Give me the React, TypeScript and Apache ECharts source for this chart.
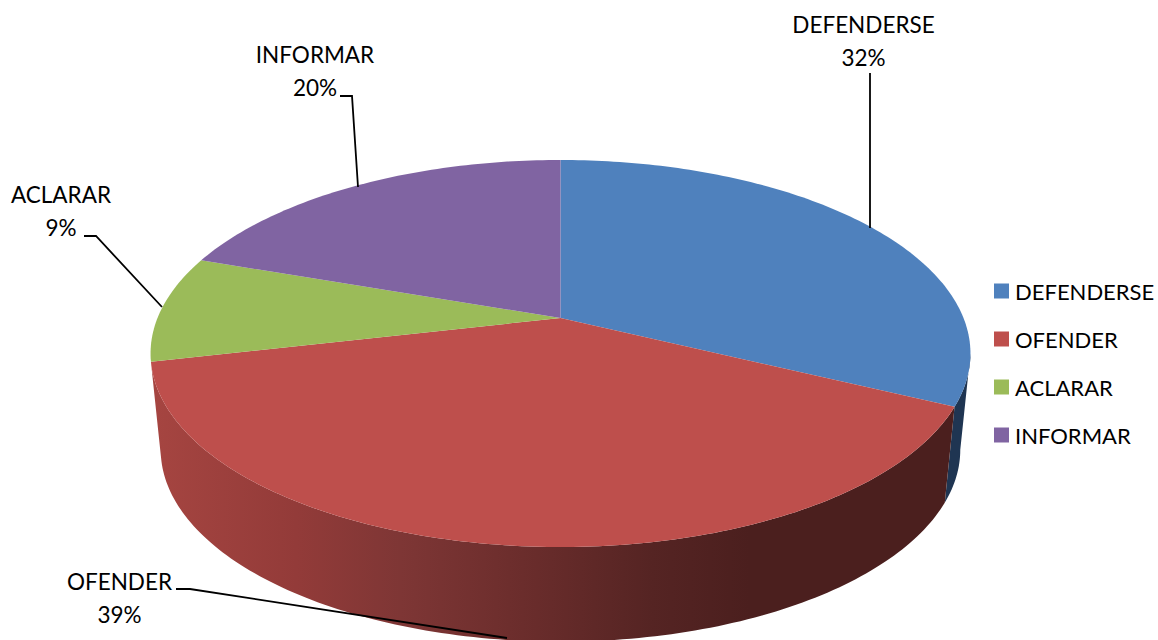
import React, { useEffect, useRef } from "react";
import * as echarts from "echarts";

const categories = ["DEFENDERSE", "OFENDER", "ACLARAR", "INFORMAR"];
const values = [32.2, 39.2, 8.9, 19.7];
const topColors = ["#4F81BD", "#BE4F4C", "#9BBB59", "#8064A2"];
const sideStops = [
  [{ offset: 0, color: "#1F3552" }, { offset: 1, color: "#1F3552" }],
  [
    { offset: 0, color: "#A64541" },
    { offset: 0.18, color: "#933B39" },
    { offset: 0.31, color: "#7E3635" },
    { offset: 0.46, color: "#6B2D2C" },
    { offset: 0.62, color: "#552423" },
    { offset: 0.74, color: "#4B1F1E" },
    { offset: 1, color: "#4B1F1E" },
  ],
  null,
  null,
];

const FONT = "Lato";
const LEGEND_SIZE = 22;
const LABEL_SIZE = 22.5;
const P = 0.1834;
const total = values.reduce((a, b) => a + b, 0);

// Perspective projection of the pie's rim; level 0 is the top face, 1 the base.
function rim(theta: number, level: number): number[] {
  const c = Math.cos(theta);
  const s = Math.sin(theta);
  const w = 1 + P * c;
  const cx = 560.5;
  const cy = level ? 414.5 : 318;
  const a = level ? 393 : 403;
  const b = level ? 185.5 : 187;
  return [cx + (a * s) / w, cy - (b * c) / w];
}

function arcPoints(from: number, to: number, level: number): number[][] {
  const n = Math.max(2, Math.ceil(((to - from) * 180) / Math.PI));
  const pts: number[][] = [];
  for (let i = 0; i <= n; i++) pts.push(rim(from + ((to - from) * i) / n, level));
  return pts;
}

function sliceRange(index: number): number[] {
  const before = values.slice(0, index).reduce((a, b) => a + b, 0);
  return [
    (before / total) * 2 * Math.PI,
    ((before + values[index]) / total) * 2 * Math.PI,
  ];
}

function makeRenderItem(index: number) {
  return () => {
    const [start, end] = sliceRange(index);
    const children: any[] = [];
    const stops = sideStops[index];
    if (stops) {
      const edge = Math.acos(-P);
      const from = Math.max(start, edge);
      const to = Math.min(end, 2 * Math.PI - edge);
      const pts = [...arcPoints(from, to, 0), ...arcPoints(from, to, 1).reverse()];
      children.push({
        type: "polygon",
        shape: { points: pts },
        style: {
          fill: new echarts.graphic.LinearGradient(150, 0, 960, 0, stops, true),
        },
      });
    }
    children.push({
      type: "polygon",
      shape: { points: [[560.5, 318], ...arcPoints(start, end, 0)] },
      style: { fill: topColors[index] },
    });
    return { type: "group", children };
  };
}

function leader(points: number[][]) {
  return {
    type: "polyline",
    z: 20,
    shape: { points },
    style: { stroke: "#000", lineWidth: 1.8, fill: "none" },
  };
}

function label(i: number, x: number, y: number) {
  return {
    type: "text",
    z: 20,
    x,
    y,
    style: {
      text: `${categories[i]}\n${Math.round(values[i])}%`,
      font: `${LABEL_SIZE}px ${FONT}`,
      lineHeight: 33,
      fill: "#000",
      textAlign: "center",
      textVerticalAlign: "middle",
    },
  };
}

export default function App() {
  const ref = useRef<HTMLDivElement>(null);
  useEffect(() => {
    const chart = echarts.init(ref.current!, null, { renderer: "svg" });
    chart.setOption({
      animation: false,
      legend: {
        orient: "vertical",
        left: 994,
        top: 280,
        padding: 0,
        itemWidth: 15,
        itemHeight: 15,
        itemGap: 26,
        selectedMode: false,
        icon: "rect",
        textStyle: {
          fontFamily: FONT,
          fontSize: LEGEND_SIZE,
          color: "#000",
          padding: [0, 0, 0, 1],
        },
        data: categories.map((name, i) => ({
          name,
          itemStyle: { color: topColors[i] },
        })),
      },
      series: categories.map((name, i) => ({
        type: "custom",
        name,
        coordinateSystem: "none",
        silent: true,
        itemStyle: { color: topColors[i] },
        data: [[values[i]]],
        renderItem: makeRenderItem(i),
      })),
      graphic: [
        leader([[870, 73], [870, 228]]),
        leader([[340, 96], [352, 96], [358, 187]]),
        leader([[84, 236], [96, 236], [162, 307]]),
        leader([[176, 589], [190, 589], [507, 638]]),
        label(0, 863.5, 40.5),
        label(3, 315, 71),
        label(2, 61, 211),
        label(1, 119.5, 597.5),
      ],
    });
    return () => chart.dispose();
  }, []);
  return (
    <div
      ref={ref}
      style={{ position: "fixed", left: 0, top: 0, width: 1158, height: 640, background: "#fff" }}
    />
  );
}
